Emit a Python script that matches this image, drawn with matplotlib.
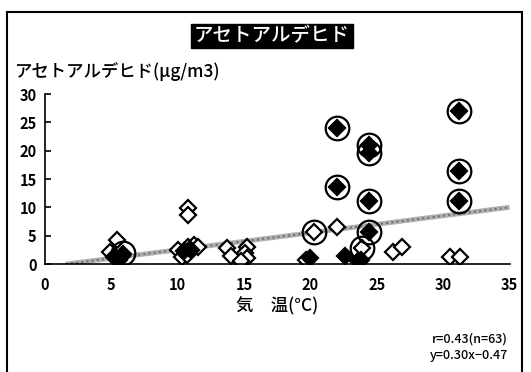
import matplotlib
matplotlib.use("Agg")
import matplotlib.pyplot as plt
import numpy as np
from matplotlib.patches import Rectangle

plt.rcParams['font.family'] = ['Noto Sans CJK JP', 'DejaVu Sans']

# open diamonds
open_x = [4.9, 5.4, 5.2, 5.8, 10.0, 10.3, 10.6, 10.8, 11.2, 11.5, 10.8, 10.8, 10.7,
          13.7, 14.0, 15.2, 15.1, 15.2, 14.8, 19.7, 20.3, 22.0, 23.9, 26.2, 26.9, 30.5, 31.3]
open_y = [2.1, 4.2, 1.2, 1.5, 2.5, 1.2, 2.0, 3.0, 3.4, 3.0, 9.9, 8.6, 1.6,
          2.8, 1.5, 3.0, 2.0, 1.0, 0.6, 0.8, 5.6, 6.5, 2.8, 2.1, 3.0, 1.2, 1.2]

# filled diamonds
fill_x = [5.3, 5.6, 5.9, 11.0, 10.5, 20.0, 22.6, 23.6, 23.8,
          22.0, 24.4, 24.4, 22.0, 31.2, 31.2, 24.4, 31.2, 24.4]
fill_y = [1.3, 0.8, 1.8, 2.5, 2.3, 1.0, 1.4, 0.6, 0.8,
          24.0, 21.0, 19.6, 13.6, 27.0, 16.4, 11.1, 11.1, 5.6]

# circled samples
circ_x = [5.9, 22.0, 24.4, 24.4, 22.0, 31.2, 31.2, 24.4, 31.2, 24.4, 20.3, 23.9]
circ_y = [2.0, 24.0, 21.0, 19.6, 13.6, 27.0, 16.4, 11.1, 11.1, 5.6, 5.6, 2.8]

slope, intercept = 0.30, -0.47
r_val, n_val = 0.43, 63

fig = plt.figure(figsize=(5.31, 3.72), dpi=100)
ax = fig.add_axes([0.0847, 0.290, 0.875, 0.457])

# regression line from where it crosses zero up to the axis end
lx = np.array([-intercept / slope, 35])
ax.plot(lx, slope * lx + intercept, color='#b0b0b0', lw=3.5, zorder=1, solid_capstyle='butt')
ax.plot(lx, slope * lx + intercept, color='#707070', lw=1.5, ls=(0, (1, 1.5)), zorder=1)

ax.plot(circ_x, circ_y, 'o', ms=17, mfc='none', mec='black', mew=1.6, zorder=3)
ax.plot(open_x, open_y, 'D', ms=8.5, mfc='white', mec='black', mew=1.6, zorder=2)
ax.plot(fill_x, fill_y, 'D', ms=8.5, mfc='black', mec='black', mew=1.6, zorder=4)

ax.set_xlim(0, 35)
ax.set_ylim(0, 30)
ax.set_xticks(range(0, 36, 5))
ax.set_yticks(range(0, 31, 5))
ax.spines['top'].set_visible(False)
ax.spines['right'].set_visible(False)
ax.spines['left'].set_linewidth(1.2)
ax.spines['bottom'].set_linewidth(1.2)
ax.tick_params(axis='x', length=0, pad=9, labelsize=10.5)
ax.tick_params(axis='y', direction='in', length=4, width=1.2, pad=6, labelsize=10.5)
for lab in ax.get_xticklabels() + ax.get_yticklabels():
    lab.set_fontweight('bold')

ax.set_xlabel('気　温(°C)', fontsize=12.5, fontweight='medium', labelpad=3)

fig.text(0.512, 1 - 36 / 372, 'アセトアルデヒド', color='white', fontsize=14,
         fontweight='medium', ha='center', va='center',
         bbox=dict(boxstyle='square,pad=0.15', fc='black', ec='black'))
fig.text(15 / 531, 1 - 72 / 372, 'アセトアルデヒド(μg/m3)', fontsize=12.5,
         fontweight='medium', ha='left', va='center')

fig.text(508 / 531, 1 - 339 / 372, f'r={r_val:.2f}(n={n_val})', fontsize=9,
         fontweight='medium', ha='right', va='center')
fig.text(508 / 531, 1 - 355 / 372, f'y={slope:.2f}x\u2212{abs(intercept):.2f}', fontsize=9,
         fontweight='medium', ha='right', va='center')

# outer frame
fig.add_artist(Rectangle((7 / 531, -0.05), 515 / 531, 1.05 - 12 / 372,
                         transform=fig.transFigure, fill=False, ec='black', lw=1.5))

fig.savefig('out.png', dpi=100)
